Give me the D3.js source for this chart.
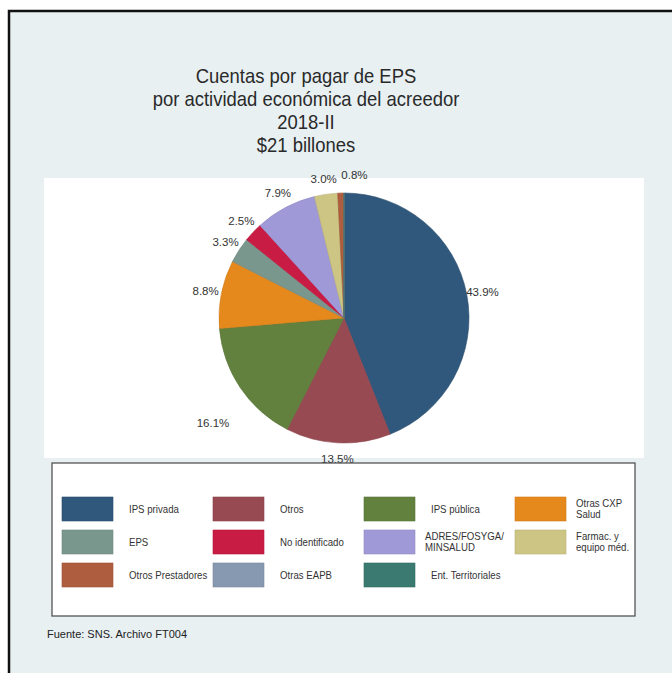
<!DOCTYPE html>
<html>
<head>
<meta charset="utf-8">
<script src="https://cdn.jsdelivr.net/npm/d3@7"></script>
<style>
  body { margin: 0; background: #fff; }
  svg text { font-family: "Liberation Sans", Arial, sans-serif; }
</style>
</head>
<body>
<div id="chart"></div>
<script>
// data
let categories = ["IPS privada", "Otros", "IPS pública", "Otras CXP Salud", "EPS", "No identificado",
  "ADRES/FOSYGA/ MINSALUD", "Farmac. y equipo méd.", "Otros Prestadores", "Otras EAPB", "Ent. Territoriales"]
let shares = [43.9, 13.5, 16.1, 8.8, 3.3, 2.5, 7.9, 3.0, 0.8, 0, 0]
let colors = ["#30587c", "#984a52", "#62803e", "#e6891c", "#7a978d", "#c91c44",
  "#a099d8", "#cdc584", "#ae5e3e", "#8699b0", "#3a7a70"]
// legend text split in lines
let legendLines = [["IPS privada"], ["Otros"], ["IPS pública"], ["Otras CXP", "Salud"], ["EPS"], ["No identificado"],
  ["ADRES/FOSYGA/", "MINSALUD"], ["Farmac. y", "equipo méd."], ["Otros Prestadores"], ["Otras EAPB"], ["Ent. Territoriales"]]
let titleLines = ["Cuentas por pagar de EPS", "por actividad económica del acreedor", "2018-II", "$21 billones"]

let W = 672, H = 673
let svg = d3.select("#chart").append("svg").attr("width", W).attr("height", H)

// outer graph region
svg.append("rect").attr("x", 8).attr("y", 10).attr("width", W).attr("height", H)
  .attr("fill", "#e8f0f2")
svg.append("path").attr("d", "M9," + H + "V11H" + W)
  .attr("fill", "none").attr("stroke", "#111").attr("stroke-width", 2.5)

// title (the original is a bit squeezed sideways)
svg.append("g").attr("transform", "translate(306,0) scale(0.9,1)")
  .selectAll("text").data(titleLines).enter().append("text")
  .attr("x", 0).attr("y", (d, i) => 83 + i * 23)
  .attr("text-anchor", "middle").attr("font-size", 20.5).attr("fill", "#2a2a2a")
  .text(d => d)

// plot region
svg.append("rect").attr("x", 44).attr("y", 178).attr("width", 600).attr("height", 280).attr("fill", "#fff")

let cx = 344, cy = 318, r = 125
let pie = d3.pie().sort(null).value(d => d)
let arcs = pie(shares)
let arc = d3.arc().innerRadius(0).outerRadius(r)

let g = svg.append("g").attr("transform", "translate(" + cx + "," + cy + ")")
g.selectAll("path").data(arcs).enter().append("path")
  .attr("d", arc)
  .attr("fill", (d, i) => colors[i])
  .attr("stroke", (d, i) => d3.color(colors[i]).darker(0.3))
  .attr("stroke-width", 0.6)

// labels: outside the pie, a small nudge where the original moved them
let labelArc = d3.arc().innerRadius(r + 16).outerRadius(r + 16)
let nudge = {2: [-14, 26], 8: [14, -2]}
g.selectAll("text").data(arcs.filter(d => d.data > 0)).enter().append("text")
  .attr("transform", d => {
    let p = labelArc.centroid(d)
    let n = nudge[d.index] || [0, 0]
    return "translate(" + (p[0] + n[0]) + "," + (p[1] + n[1]) + ")"
  })
  .attr("text-anchor", "middle").attr("dy", "0.35em")
  .attr("font-size", 11.5).attr("fill", "#333")
  .text(d => d3.format(".1f")(d.data) + "%")

// legend
let lg = svg.append("g")
lg.append("rect").attr("x", 52).attr("y", 463).attr("width", 583).attr("height", 153)
  .attr("fill", "#fff").attr("stroke", "#555").attr("stroke-width", 1.3)

let colX = d3.scalePoint().domain([0, 1, 2, 3]).range([62, 515])
let rowY = d3.scalePoint().domain([0, 1, 2]).range([497, 563])
let items = lg.selectAll("g.item").data(categories).enter().append("g")
  .attr("class", "item")
  .attr("transform", (d, i) => "translate(" + colX(i % 4) + "," + rowY(Math.floor(i / 4)) + ")")
items.append("rect").attr("width", 51).attr("height", 24)
  .attr("fill", (d, i) => colors[i])
  .attr("stroke", (d, i) => d3.color(colors[i]).darker(0.3)).attr("stroke-width", 0.6)
items.each(function(d, i) {
  let lines = legendLines[i]
  let t = d3.select(this).append("text").attr("font-size", 10.5).attr("fill", "#333")
    .attr("transform", "translate(" + (lines.length > 1 ? 61 : 67) + ",0) scale(0.92,1)")
  lines.forEach((l, j) => {
    t.append("tspan").attr("x", 0)
      .attr("y", 12 + (j - (lines.length - 1) / 2) * 11.5).attr("dy", "0.35em").text(l)
  })
})

// footer
svg.append("text").attr("x", 47).attr("y", 638).attr("font-size", 11).attr("fill", "#222")
  .text("Fuente: SNS. Archivo FT004")
</script>
</body>
</html>
